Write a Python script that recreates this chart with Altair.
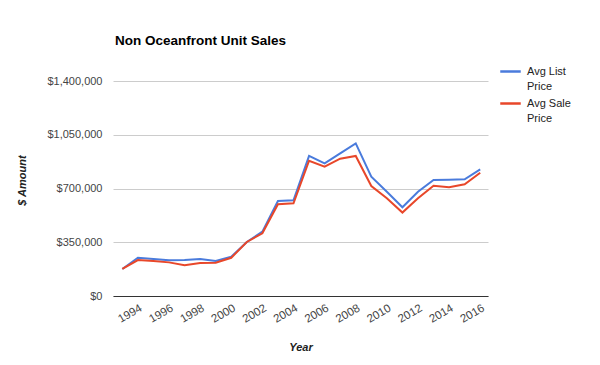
import altair as alt
import pandas as pd

years = list(range(1993, 2017))
avg_list_price = [176000, 249000, 241000, 232000, 234000, 241000, 228000, 256000,
                  352000, 419000, 619000, 623000, 912000, 864000, 929000, 994000,
                  777000, 679000, 578000, 679000, 755000, 757000, 760000, 825000]
avg_sale_price = [176000, 234000, 228000, 219000, 200000, 215000, 217000, 249000,
                  352000, 408000, 597000, 604000, 881000, 842000, 894000, 912000,
                  716000, 636000, 543000, 636000, 718000, 708000, 727000, 803000]
series_names = ["Avg List Price", "Avg Sale Price"]
series_colors = ["#4a7bdc", "#e8472a"]
y_ticks = [0, 350000, 700000, 1050000, 1400000]
x_ticks = list(range(1994, 2017, 2))

rows = []
for name, vals in zip(series_names, [avg_list_price, avg_sale_price]):
    for yr, v in zip(years, vals):
        rows.append({"Year": yr, "Amount": v, "Series": name})
df = pd.DataFrame(rows)

font = "Liberation Sans"

chart = alt.Chart(df).mark_line(strokeWidth=2).encode(
    x=alt.X("Year:Q",
            scale=alt.Scale(domain=[1992.4, 2016.5], nice=False, zero=False),
            axis=alt.Axis(values=x_ticks, format="d", title="Year", grid=False,
                          ticks=False, domain=True, domainColor="#333333",
                          labelAngle=-30, labelAlign="right", labelBaseline="top",
                          labelPadding=6, labelFontSize=11.5, labelColor="#444444",
                          labelFont=font, titleFont=font, titleFontSize=11,
                          titleFontWeight="bold", titleFontStyle="italic",
                          titleColor="#222222", titleY=51, titleBaseline="middle")),
    y=alt.Y("Amount:Q",
            scale=alt.Scale(domain=[0, 1400000], nice=False),
            axis=alt.Axis(values=y_ticks, format="$,.0f", title="$ Amount",
                          grid=True, gridColor="#cccccc", ticks=False, domain=False,
                          labelPadding=11, labelFontSize=11, labelColor="#444444",
                          labelFont=font, titleFont=font, titleFontSize=11,
                          titleFontWeight="bold", titleFontStyle="italic",
                          titleColor="#222222", titleX=-91, titleY=99,
                          titleBaseline="middle", titleAlign="center")),
    color=alt.Color("Series:N",
                    scale=alt.Scale(domain=series_names, range=series_colors),
                    legend=alt.Legend(title=None, orient="none", legendX=386, legendY=-21,
                                      symbolType="stroke", symbolSize=420,
                                      symbolStrokeWidth=2.5, labelFont=font,
                                      labelFontSize=11, labelColor="#222222",
                                      labelOffset=5, labelBaseline="middle",
                                      rowPadding=-8,
                                      labelExpr="split(datum.label, ' P')[0] == datum.label ? datum.label : [split(datum.label, ' P')[0], 'Price']")),
).properties(
    width=375, height=215,
    title=alt.TitleParams("Non Oceanfront Unit Sales", anchor="start", frame="group",
                          font=font, fontSize=13.5, fontWeight="bold", color="#000000",
                          dx=2, offset=13),
    autosize=alt.AutoSizeParams(type="none"),
    padding={"left": 105, "top": 73, "right": 90, "bottom": 55},
).configure(
    style={"guide-label": {"lineHeight": 15}},
    view=alt.ViewConfig(stroke=None),
)

chart.save("out.html", embed_options={"renderer": "svg", "actions": False})
